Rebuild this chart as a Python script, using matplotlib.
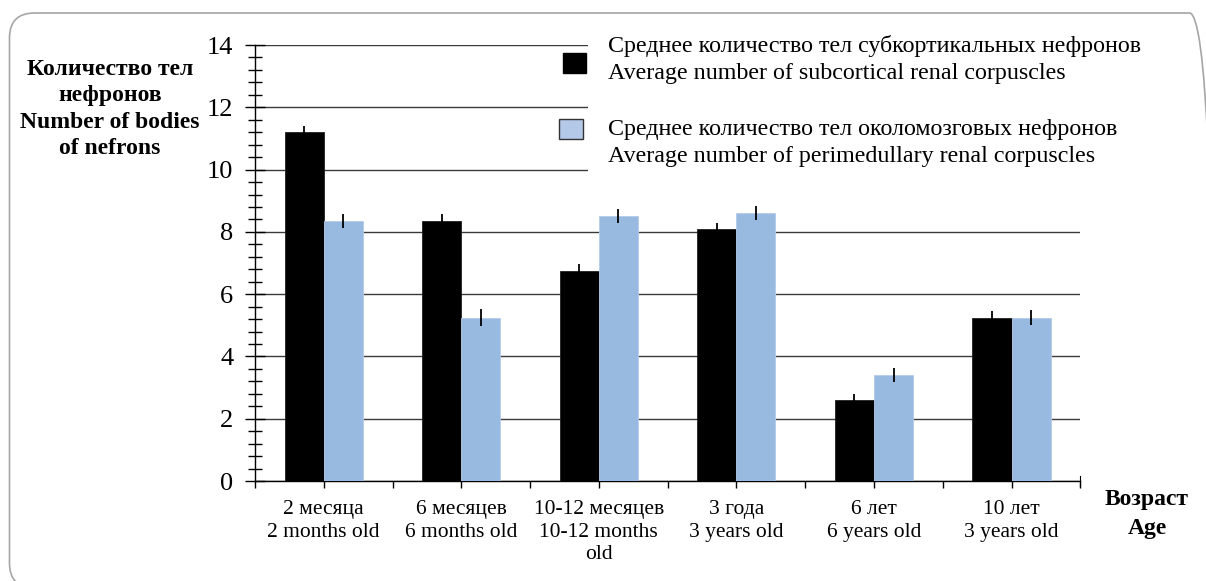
import numpy as np
import matplotlib.pyplot as plt
from matplotlib.patches import Patch, Rectangle, FancyBboxPatch
from matplotlib.legend_handler import HandlerPatch
from matplotlib.ticker import MultipleLocator

plt.rcParams['font.family'] = ['Liberation Serif', 'DejaVu Serif']

# Данные
groups = ['2 месяца\n2 months old',
          '6 месяцев\n6 months old',
          '10-12 месяцев\n10-12 months\nold',
          '3 года\n3 years old',
          '6 лет\n6 years old',
          '10 лет\n3 years old']
subcortical = [11.2, 8.35, 6.75, 8.1, 2.6, 5.25]
subcortical_err = [0.2, 0.22, 0.22, 0.2, 0.2, 0.22]
perimedullary = [8.35, 5.25, 8.5, 8.6, 3.4, 5.25]
perimedullary_err = [0.24, 0.26, 0.22, 0.23, 0.22, 0.23]

label_sub = ('Среднее количество тел субкортикальных нефронов\n'
             'Average number of subcortical renal corpuscles')
label_peri = ('Среднее количество тел околомозговых нефронов\n'
              'Average number of perimedullary renal corpuscles')

black = '#000000'
blue = '#98B9E0'

fig = plt.figure(figsize=(12.06, 5.81), dpi=100)
ax = fig.add_axes([0.2114, 0.1721, 0.6844, 0.7504])

x = np.arange(len(groups))
w = 0.284
ax.bar(x - w / 2, subcortical, w, color=black, edgecolor='#202020', linewidth=0.6, zorder=3)
ax.bar(x + w / 2, perimedullary, w, color=blue, edgecolor='#B4CBE8', linewidth=0.6, zorder=3)
ax.errorbar(x - w / 2, subcortical, yerr=subcortical_err, fmt='none',
            ecolor='black', elinewidth=1.3, capsize=0, zorder=4)
ax.errorbar(x + w / 2, perimedullary, yerr=perimedullary_err, fmt='none',
            ecolor='black', elinewidth=1.3, capsize=0, zorder=4)

ax.set_xlim(-0.5, len(groups) - 0.5)
ax.set_ylim(0, 14)

# ось Y: крупные деления через 2, мелкие через 0.4
ax.yaxis.set_major_locator(MultipleLocator(2))
ax.yaxis.set_minor_locator(MultipleLocator(0.4))
ax.tick_params(axis='y', which='major', direction='inout', length=14, width=1,
               labelsize=19, pad=8.5)
ax.tick_params(axis='y', which='minor', direction='inout', length=10, width=1)
ax.grid(axis='y', which='major', color='#3a3a3a', linewidth=1.0, zorder=0)
ax.set_axisbelow(True)

# ось X: подписи в центрах групп, деления ещё и на границах
ax.set_xticks(x)
ax.set_xticklabels(groups, fontsize=15.5, linespacing=1.25)
ax.set_xticks(np.arange(-0.5, len(groups), 1.0), minor=True)
ax.tick_params(axis='x', which='both', direction='out', length=5, width=1)
ax.tick_params(axis='x', which='major', pad=9)

ax.spines['top'].set_visible(False)
ax.spines['right'].set_bounds(-0.17, 0.17)
ax.spines['right'].set_clip_on(False)
ax.spines['left'].set_linewidth(1)
ax.spines['bottom'].set_linewidth(1)

# белая подложка под легендой
ax.add_patch(Rectangle((0.4036, 0.655), 0.6, 0.36, transform=ax.transAxes,
                       facecolor='white', edgecolor='none', zorder=1, clip_on=False))


# маркер легенды со сдвигом (в пунктах)
def shifted_box(dx, dy):
    def make(legend, orig_handle, xdescent, ydescent, width, height, fontsize):
        return Rectangle((-xdescent + dx, -ydescent + dy), width, height)
    return HandlerPatch(patch_func=make)


h_sub = Patch(facecolor=black, edgecolor=black)
h_peri = Patch(facecolor='#B4C8E8', edgecolor='#333333', linewidth=1.0)
leg = fig.legend([h_sub, h_peri], [label_sub, label_peri], loc='upper left',
                 bbox_to_anchor=(560 / 1206, 1 - 35 / 581), frameon=False,
                 fontsize=17.3, handlelength=0.97, handleheight=0.93,
                 handletextpad=1.03, labelspacing=1.45, borderpad=0, borderaxespad=0,
                 handler_map={h_sub: shifted_box(2, -2.5), h_peri: shifted_box(-0.5, 10)})
for t in leg.get_texts():
    t.set_linespacing(1.38)

fig.text(110 / 1206, 1 - 109 / 581,
         'Количество тел\nнефронов\nNumber of bodies\nof nefrons',
         ha='center', va='center', fontsize=17, fontweight='bold', linespacing=1.35)
fig.text(1147 / 1206, 1 - 514 / 581, 'Возраст\nAge',
         ha='center', va='center', fontsize=17, fontweight='bold', linespacing=1.45)

# рамка со скруглёнными углами
frame = FancyBboxPatch((9.5, -7), 1205, 575, boxstyle='round,pad=0,rounding_size=25',
                       transform=None, facecolor='none', edgecolor='#A6A6A6',
                       linewidth=1.2)
fig.add_artist(frame)

fig.savefig('out.png', dpi=100)
